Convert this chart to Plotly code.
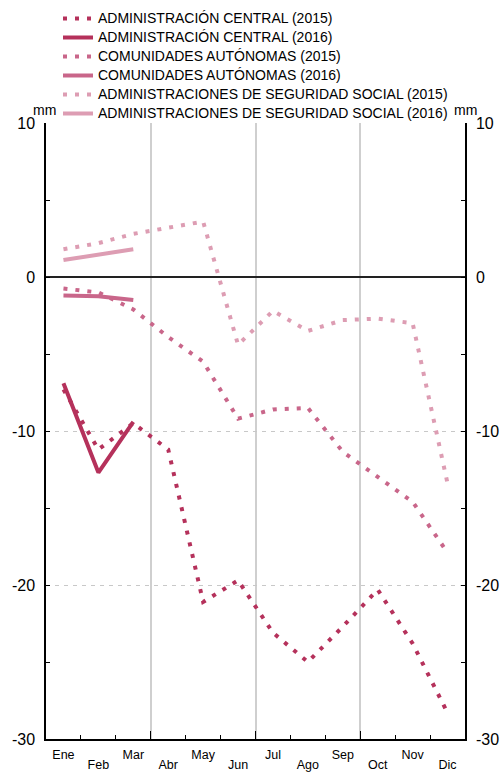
import plotly.graph_objects as go

months = ["Ene", "Feb", "Mar", "Abr", "May", "Jun", "Jul", "Ago", "Sep", "Oct", "Nov", "Dic"]
ac_2015 = [-7.3, -11.2, -9.5, -11.2, -21.1, -19.7, -23.1, -25.0, -22.7, -20.3, -23.8, -28.3]
ac_2016 = [-6.9, -12.7, -9.4]
ca_2015 = [-0.75, -1.0, -2.1, -3.9, -5.5, -9.2, -8.6, -8.5, -11.35, -13.0, -14.6, -17.9]
ca_2016 = [-1.2, -1.25, -1.5]
ss_2015 = [1.8, 2.2, 2.8, 3.2, 3.6, -4.4, -2.2, -3.5, -2.8, -2.7, -3.0, -13.4]
ss_2016 = [1.1, 1.45, 1.8]

y_ticks = [-30, -20, -10, 0, 10]
y_ticktext = ["-30", "-20", "-10", "0", "10"]
quarter_bounds = [2.5, 5.5, 8.5]

series = [
    ("ADMINISTRACIÓN CENTRAL (2015)", ac_2015, "#b5315b", True),
    ("ADMINISTRACIÓN CENTRAL (2016)", ac_2016, "#b5315b", False),
    ("COMUNIDADES AUTÓNOMAS (2015)", ca_2015, "#c9668a", True),
    ("COMUNIDADES AUTÓNOMAS (2016)", ca_2016, "#c9668a", False),
    ("ADMINISTRACIONES DE SEGURIDAD SOCIAL (2015)", ss_2015, "#dd9db3", True),
    ("ADMINISTRACIONES DE SEGURIDAD SOCIAL (2016)", ss_2016, "#dd9db3", False),
]

FONT = "Helvetica, Arial, 'Liberation Sans', sans-serif"

fig = go.Figure()
for name, vals, color, dotted in series:
    fig.add_trace(go.Scatter(
        x=list(range(len(vals))), y=vals,
        name="<span style='font-size:14px'>" + name + "</span>", mode="lines",
        line=dict(color=color, width=4, dash="4px,8px" if dotted else "solid"),
        hoverinfo="skip",
    ))

# invisible helper traces to anchor the secondary axes
for xa in ("x2", "x3"):
    fig.add_trace(go.Scatter(x=list(range(len(months))), y=ac_2015, xaxis=xa, yaxis="y2",
                             mode="lines", line=dict(color="rgba(0,0,0,0)"), showlegend=False,
                             hoverinfo="skip"))

W, H = 502, 773
ml, mr, mt, mb = 46, 37, 123, 34
PH = H - mt - mb
PW = W - ml - mr

upper_idx = list(range(0, 12, 2))
lower_idx = list(range(1, 12, 2))

fig.update_layout(
    width=W, height=H,
    margin=dict(l=ml, r=mr, t=mt, b=mb, pad=0, autoexpand=False),
    paper_bgcolor="white", plot_bgcolor="white",
    font=dict(family=FONT, color="black"),
    showlegend=True,
    legend=dict(
        x=(58 - ml) / PW, xanchor="left",
        y=1 + (mt - 4) / PH, yanchor="top",
        bgcolor="rgba(0,0,0,0)", font=dict(size=12, family=FONT),
        itemwidth=30, tracegroupgap=0,
    ),
    xaxis=dict(
        range=[-0.5, 11.5], tickmode="array", tickvals=quarter_bounds,
        showticklabels=False, ticks="inside", ticklen=8, tickcolor="black", tickwidth=1,
        showgrid=True, gridcolor="#cfcfcf", gridwidth=1.5,
        showline=True, linecolor="black", linewidth=1.5, zeroline=False,
        minor=dict(tickmode="linear", tick0=-0.5, dtick=1, ticks="inside", ticklen=4,
                   tickcolor="black", showgrid=False),
        automargin=False,
    ),
    xaxis2=dict(
        overlaying="x", anchor="y", side="bottom", range=[-0.5, 11.5],
        tickmode="array", tickvals=upper_idx, ticktext=[months[i] for i in upper_idx],
        ticks="", showgrid=False, showline=False, zeroline=False,
        tickfont=dict(size=12.5, family=FONT), ticklabelstandoff=6,
        automargin=False,
    ),
    xaxis3=dict(
        overlaying="x", anchor="y", side="bottom", range=[-0.5, 11.5],
        tickmode="array", tickvals=lower_idx, ticktext=[months[i] for i in lower_idx],
        ticks="", showgrid=False, showline=False, zeroline=False,
        tickfont=dict(size=12.5, family=FONT), ticklabelstandoff=16,
        automargin=False,
    ),
    yaxis=dict(
        range=[-30, 10], tickmode="array", tickvals=y_ticks, ticktext=y_ticktext,
        ticks="inside", ticklen=4, tickcolor="black",
        tickfont=dict(size=16, family=FONT), ticklabelstandoff=6,
        showgrid=True, gridcolor="#c8c8c8", gridwidth=1, griddash="4px,5px",
        zeroline=True, zerolinecolor="#222222", zerolinewidth=1.5,
        showline=True, linecolor="black", linewidth=1.5,
        minor=dict(tickmode="linear", tick0=-25, dtick=10, ticks="inside", ticklen=4,
                   tickcolor="black", showgrid=False),
        automargin=False,
    ),
    yaxis2=dict(
        overlaying="y", side="right", anchor="x", range=[-30, 10],
        tickmode="array", tickvals=y_ticks, ticktext=y_ticktext,
        ticks="inside", ticklen=4, tickcolor="black",
        tickfont=dict(size=16, family=FONT), ticklabelstandoff=6,
        showgrid=False, zeroline=False,
        showline=True, linecolor="black", linewidth=1.5,
        minor=dict(tickmode="linear", tick0=-25, dtick=10, ticks="inside", ticklen=4,
                   tickcolor="black", showgrid=False),
        automargin=False,
    ),
    annotations=[
        dict(text="mm", xref="paper", yref="paper", x=0, y=1, xanchor="center", yanchor="bottom",
             xshift=-2, yshift=3, showarrow=False, font=dict(size=14, family=FONT)),
        dict(text="mm", xref="paper", yref="paper", x=1, y=1, xanchor="center", yanchor="bottom",
             yshift=3, showarrow=False, font=dict(size=14, family=FONT)),
    ],
)

fig.write_html("out.html", config={"displayModeBar": False},
               post_script="document.body.style.margin='0';document.body.style.overflow='hidden';")
